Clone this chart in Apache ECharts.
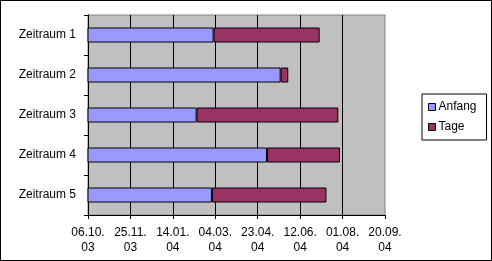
<!DOCTYPE html>
<html><head><meta charset="utf-8">
<script src="https://cdn.jsdelivr.net/npm/echarts@6/dist/echarts.min.js"></script>
<style>html,body{margin:0;padding:0;background:#fff}#c{width:492px;height:261px;position:absolute;left:0;top:0}#f{position:absolute;left:0;top:0;width:492px;height:261px;box-sizing:border-box;border:1px solid #000;pointer-events:none}</style>
</head><body><div id="c"></div><div id="f"></div>
<script>
// Excel date serials (06.10.03 = 37900)
const categories = ['Zeitraum 1','Zeitraum 2','Zeitraum 3','Zeitraum 4','Zeitraum 5'];
const anfang = [38048, 38127, 38028, 38111, 38046];
const tage = [125, 9, 167, 86, 135];
const axisMin = 37900, axisMax = 38250, axisStep = 50;
const tickLabels = ['06.10.\n03','25.11.\n03','14.01.\n04','04.03.\n04','23.04.\n04','12.06.\n04','01.08.\n04','20.09.\n04'];

const chart = echarts.init(document.getElementById('c'), null, {renderer:'canvas'});
const font = 'Liberation Sans, Arial, sans-serif';
chart.setOption({
  animation:false,
  textStyle:{fontFamily:font},
  grid:{left:88,top:15,right:107,bottom:46,show:true,backgroundColor:'#C0C0C0',borderColor:'#808080',borderWidth:1,containLabel:false},
  legend:{
    orient:'vertical', left:422, top:94, width:59,
    padding:[6,10,6,6], itemGap:6,
    backgroundColor:'#fff', borderColor:'#000', borderWidth:1, borderRadius:0,
    icon:'rect', itemWidth:7, itemHeight:7,
    textStyle:{fontFamily:font,fontSize:12,color:'#000',padding:[0,0,0,-2],lineHeight:14},
    data:[{name:'Anfang',itemStyle:{borderColor:'#000',borderWidth:1}},{name:'Tage',itemStyle:{borderColor:'#000',borderWidth:1}}]
  },
  xAxis:{
    type:'value', min:axisMin, max:axisMax, interval:axisStep,
    axisLine:{show:true,lineStyle:{color:'#000',width:1}},
    axisTick:{show:true,length:4,lineStyle:{color:'#000'}},
    splitLine:{show:true,showMinLine:false,showMaxLine:false,lineStyle:{color:'#000',width:1}},
    axisLabel:{color:'#000',fontSize:12,fontFamily:font,lineHeight:15,margin:10,
      formatter:function(v){return tickLabels[Math.round((v-axisMin)/axisStep)]||'';}}
  },
  yAxis:{
    type:'category', data:categories, inverse:true,
    axisLine:{show:true,lineStyle:{color:'#000',width:1}},
    axisTick:{show:true,length:4,lineStyle:{color:'#000'}},
    axisLabel:{color:'#000',fontSize:12,fontFamily:font,margin:12},
    splitLine:{show:false}
  },
  series:[
    {name:'Anfang',type:'bar',stack:'s',data:anfang,barWidth:15,
     itemStyle:{color:'#9999FF',borderColor:'#000',borderWidth:1}},
    {name:'Tage',type:'bar',stack:'s',data:tage,barWidth:15,
     itemStyle:{color:'#993366',borderColor:'#000',borderWidth:1}}
  ]
});
</script></body></html>
